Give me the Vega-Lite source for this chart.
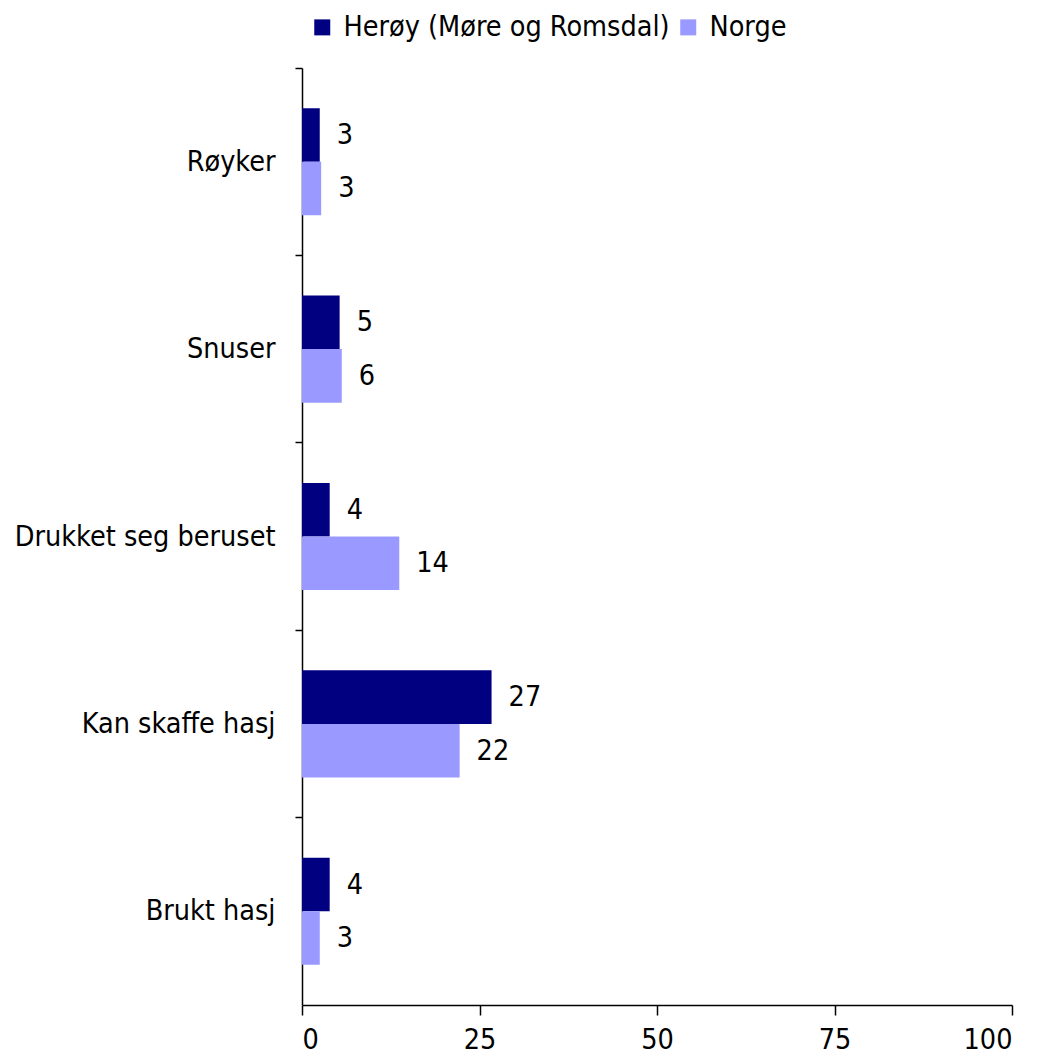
{
  "$schema": "https://vega.github.io/schema/vega-lite/v6.json",
  "autosize": "none",
  "width": 710,
  "height": 937,
  "padding": {"left": 302, "top": 68, "right": 32, "bottom": 53},
  "background": "white",
  "config": {
    "font": "DejaVu Sans Condensed",
    "view": {"stroke": null},
    "axis": {"labelFont": "DejaVu Sans Condensed", "labelColor": "black", "domainColor": "black", "tickColor": "black", "domainWidth": 1.5, "tickWidth": 1.5, "labelLimit": 400},
    "legend": {"labelFont": "DejaVu Sans Condensed", "labelLimit": 600}
  },
  "data": {
    "values": [
      {"kategori": "Røyker", "serie": "Herøy (Møre og Romsdal)", "verdi": 2.5, "label": "3"},
      {"kategori": "Røyker", "serie": "Norge", "verdi": 2.7, "label": "3"},
      {"kategori": "Snuser", "serie": "Herøy (Møre og Romsdal)", "verdi": 5.3, "label": "5"},
      {"kategori": "Snuser", "serie": "Norge", "verdi": 5.6, "label": "6"},
      {"kategori": "Drukket seg beruset", "serie": "Herøy (Møre og Romsdal)", "verdi": 3.9, "label": "4"},
      {"kategori": "Drukket seg beruset", "serie": "Norge", "verdi": 13.7, "label": "14"},
      {"kategori": "Kan skaffe hasj", "serie": "Herøy (Møre og Romsdal)", "verdi": 26.7, "label": "27"},
      {"kategori": "Kan skaffe hasj", "serie": "Norge", "verdi": 22.2, "label": "22"},
      {"kategori": "Brukt hasj", "serie": "Herøy (Møre og Romsdal)", "verdi": 3.9, "label": "4"},
      {"kategori": "Brukt hasj", "serie": "Norge", "verdi": 2.5, "label": "3"}
    ]
  },
  "encoding": {
    "y": {
      "field": "kategori", "type": "nominal",
      "sort": ["Røyker", "Snuser", "Drukket seg beruset", "Kan skaffe hasj", "Brukt hasj"],
      "scale": {"paddingInner": 0, "paddingOuter": 0},
      "axis": {"title": null, "bandPosition": 0, "labelFontSize": 28.5, "labelPadding": 20, "tickSize": 7}
    },
    "yOffset": {
      "field": "serie", "type": "nominal",
      "scale": {"paddingInner": 0, "paddingOuter": 0.75}
    },
    "x": {
      "field": "verdi", "type": "quantitative",
      "scale": {"domain": [0, 100], "nice": false},
      "axis": {"title": null, "values": [0, 25, 50, 75, 100], "grid": false, "labelFontSize": 28.5, "tickSize": 10, "labelPadding": 10}
    }
  },
  "layer": [
    {
      "mark": {"type": "bar", "cornerRadius": 0},
      "encoding": {
        "color": {
          "field": "serie", "type": "nominal",
          "scale": {"domain": ["Herøy (Møre og Romsdal)", "Norge"], "range": ["#000080", "#9999FF"]},
          "legend": {"title": null, "orient": "none", "legendX": 6, "legendY": -55, "direction": "horizontal", "labelFontSize": 28.5, "symbolType": "square", "symbolSize": 256, "symbolStrokeWidth": 0, "columnPadding": 4, "labelOffset": 7, "labelColor": "black"}
        }
      }
    },
    {
      "mark": {"type": "text", "align": "left", "baseline": "middle", "dx": 17, "fontSize": 28.5, "color": "black"},
      "encoding": {"text": {"field": "label"}}
    }
  ]
}
